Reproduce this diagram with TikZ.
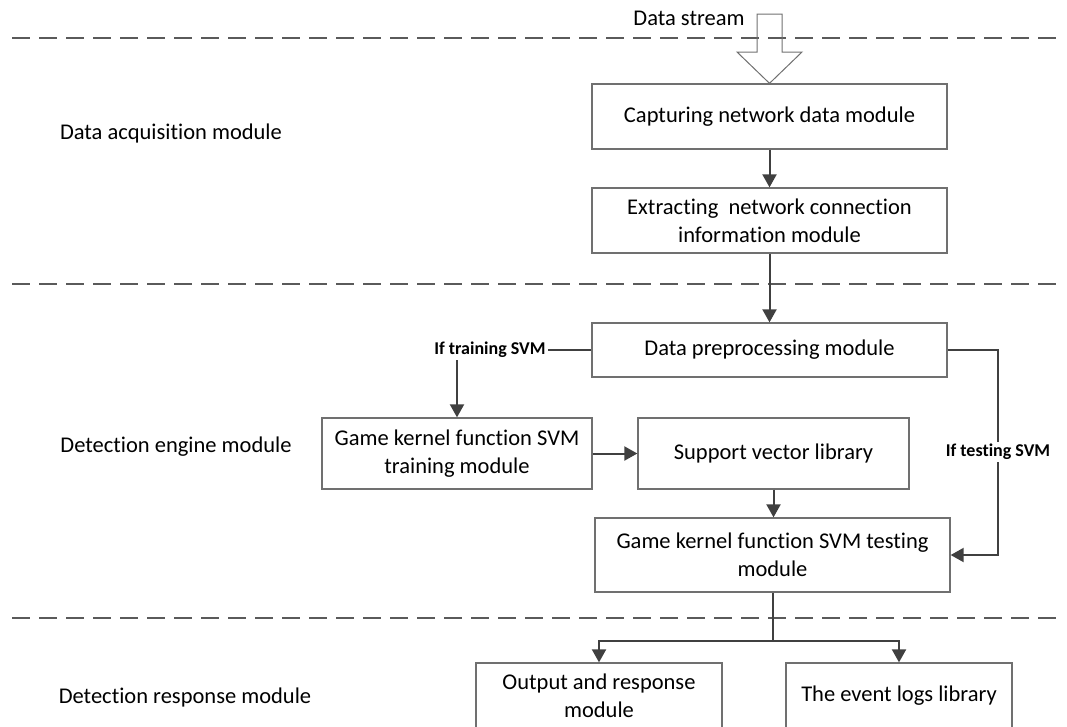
\documentclass[tikz,border=0pt]{standalone}
\usepackage{fontspec}
\setmainfont{Carlito}[Ligatures={NoCommon,NoContextual},Contextuals={NoAlternate}]
\usetikzlibrary{arrows.meta,calc}
\definecolor{dashgray}{HTML}{5A5A5A}
\definecolor{boxgray}{HTML}{707070}
\definecolor{arrgray}{HTML}{404040}
\tikzset{
  modbox/.style={draw=boxgray, line width=1.3pt, fill=white, align=center,
    inner sep=0pt, font=\fontsize{22.5}{28}\selectfont},
  sepline/.style={draw=dashgray, line width=2.5pt, dash pattern=on 18pt off 9pt},
  flow/.style={draw=arrgray, line width=2pt,
    -{Triangle[length=13pt,width=14pt]}},
  plain/.style={draw=arrgray, line width=2pt},
  cond/.style={font=\fontsize{18}{21}\selectfont\bfseries, inner sep=2pt},
  layer/.style={font=\fontsize{22.5}{28}\selectfont, inner sep=0pt}
}
\begin{document}
\begin{tikzpicture}[x=1pt,y=-1pt]
\useasboundingbox (0,0) rectangle (1067,726);

% layer separators
\draw[sepline] (12,38) -- (1062,38);
\draw[sepline] (12,284) -- (1062,284);
\draw[sepline] (12,618) -- (1062,618);

% layer names
\node[layer] (lacq) at (171,133) {Data acquisition module};
\node[layer] (leng) at (176,447) {Detection engine module};
\node[layer] (lres) at (185,697) {Detection response module};

% modules
\node[modbox, minimum width=355pt, minimum height=65pt] (cap) at (769.5,116.5)
  {Capturing network data module};
\node[modbox, minimum width=355pt, minimum height=65pt] (ext) at (769.5,220.5)
  {Extracting\ \ network connection\\information module};
\node[modbox, minimum width=355pt, minimum height=54pt] (pre) at (769.5,350)
  {Data preprocessing module};
\node[modbox, minimum width=270pt, minimum height=71pt] (trn) at (457,453.5)
  {Game kernel function SVM\\training module};
\node[modbox, minimum width=271pt, minimum height=71pt] (sup) at (773.5,453.5)
  {Support vector library};
\node[modbox, minimum width=355pt, minimum height=74pt] (tst) at (772.5,555)
  {Game kernel function SVM testing\\module};
\node[modbox, minimum width=246pt, minimum height=65pt] (out) at (599,695.5)
  {Output and response\\module};
\node[modbox, minimum width=226pt, minimum height=65pt] (evt) at (899,695.5)
  {The event logs library};

% incoming data stream
\node[layer] (ds) at (689,18) {Data stream};
\draw[draw=boxgray, line width=1pt]
  (757,14) -- (782,14) -- (782,52) -- (802,52) -- (cap.north)
  -- (737,52) -- (757,52) -- cycle;

% acquisition flow
\draw[flow] (cap) -- (ext);
\draw[flow] (ext) -- (pre);

% training branch
\node[cond] (ltr) at (490,350) {If training SVM};
\draw[plain] (pre.west) -- (ltr.east);
\draw[flow] (ltr.south -| trn.north) -- (trn.north);
\draw[flow] (trn.east) -- (sup.west);
\draw[flow] (sup.south) -- (sup.south |- tst.north);

% testing branch
\coordinate (rt) at (998,350);
\draw[flow] (pre.east) -- (rt) |- (tst.east);
\node[cond, fill=white] (lts) at (998,452) {If testing SVM};

% response fan-out
\coordinate (sp) at (772.5,641);
\draw[plain] (tst.south) -- (sp);
\draw[flow] (sp) -| (out.north);
\draw[flow] (sp) -| (evt.north);
\end{tikzpicture}
\end{document}
